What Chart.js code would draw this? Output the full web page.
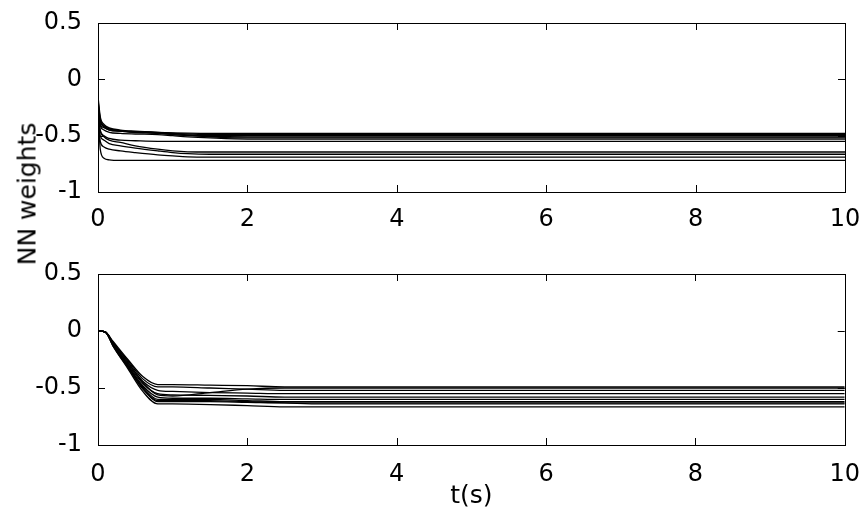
<!DOCTYPE html>
<html>
<head>
<meta charset="utf-8">
<script src="https://cdn.jsdelivr.net/npm/chart.js@4/dist/chart.umd.min.js"></script>
<style>
  body { margin: 0; background: #fff; }
  #wrap { position: relative; width: 867px; height: 512px; }
  canvas { position: absolute; left: 0; }
  #top { top: 0; }
  #bottom { top: 240px; }
  #ylabel {
    position: absolute; left: 27px; top: 194px;
    transform: translate(-50%, -50%) rotate(-90deg);
    font: 25px "DejaVu Sans", sans-serif; color: #000; white-space: nowrap;
  }
</style>
</head>
<body>
<div id="wrap">
  <canvas id="top" width="867" height="240"></canvas>
  <canvas id="bottom" width="867" height="272"></canvas>
  <div id="ylabel">NN weights</div>
</div>
<script>
// axis ticks
const xTicks = [0, 2, 4, 6, 8, 10];
const yTicks = [-1, -0.5, 0, 0.5];

// top subplot: sample times and weight trajectories
const timesTop = [0, 0.03, 0.08, 0.15, 0.3, 0.5, 0.8, 1.0, 1.2, 1.5, 2, 3, 10];
const wTop1 = [-0.15, -0.33, -0.40, -0.43, -0.45, -0.46, -0.47, -0.475, -0.478, -0.48, -0.48, -0.48, -0.48];
const wTop2 = [-0.20, -0.36, -0.41, -0.44, -0.455, -0.465, -0.475, -0.48, -0.485, -0.49, -0.49, -0.49, -0.49];
const wTop3 = [-0.25, -0.38, -0.42, -0.44, -0.46, -0.47, -0.48, -0.49, -0.495, -0.50, -0.50, -0.50, -0.50];
const wTop4 = [-0.18, -0.35, -0.42, -0.45, -0.46, -0.465, -0.47, -0.48, -0.495, -0.505, -0.51, -0.51, -0.51];
const wTop5 = [-0.28, -0.40, -0.43, -0.45, -0.46, -0.47, -0.475, -0.49, -0.50, -0.51, -0.52, -0.52, -0.52];
const wTop6 = [-0.30, -0.41, -0.45, -0.47, -0.48, -0.485, -0.49, -0.50, -0.51, -0.52, -0.53, -0.53, -0.53];
const wTop7 = [-0.30, -0.45, -0.50, -0.525, -0.54, -0.545, -0.55, -0.55, -0.55, -0.55, -0.55, -0.55, -0.55];
const wTop8 = [-0.32, -0.46, -0.51, -0.54, -0.56, -0.59, -0.62, -0.635, -0.643, -0.645, -0.645, -0.645, -0.645];
const wTop9 = [-0.35, -0.50, -0.54, -0.57, -0.59, -0.61, -0.635, -0.65, -0.66, -0.665, -0.665, -0.665, -0.665];
const wTop10 = [-0.35, -0.55, -0.60, -0.62, -0.635, -0.65, -0.67, -0.68, -0.688, -0.69, -0.69, -0.69, -0.69];
const wTop11 = [-0.22, -0.62, -0.70, -0.715, -0.72, -0.72, -0.72, -0.72, -0.72, -0.72, -0.72, -0.72, -0.72];
const seriesTop = [wTop1, wTop2, wTop3, wTop4, wTop5, wTop6, wTop7, wTop8, wTop9, wTop10, wTop11];

// bottom subplot
const timesBottom = [0, 0.1, 0.2, 0.4, 0.6, 0.8, 1.0, 1.5, 2.0, 2.5, 3.0, 10];
const wBot1 = [0, -0.01, -0.09, -0.25, -0.40, -0.47, -0.47, -0.475, -0.48, -0.49, -0.49, -0.49];
const wBot2 = [0, -0.01, -0.10, -0.27, -0.45, -0.56, -0.57, -0.54, -0.51, -0.50, -0.50, -0.50];
const wBot3 = [0, -0.01, -0.10, -0.26, -0.42, -0.49, -0.49, -0.50, -0.51, -0.52, -0.52, -0.52];
const wBot4 = [0, -0.01, -0.11, -0.28, -0.44, -0.52, -0.53, -0.54, -0.545, -0.55, -0.55, -0.55];
const wBot5 = [0, -0.01, -0.11, -0.29, -0.46, -0.55, -0.56, -0.565, -0.57, -0.58, -0.58, -0.58];
const wBot6 = [0, -0.01, -0.12, -0.30, -0.48, -0.58, -0.59, -0.59, -0.595, -0.60, -0.60, -0.60];
const wBot7 = [0, -0.01, -0.12, -0.31, -0.49, -0.60, -0.60, -0.60, -0.61, -0.62, -0.62, -0.62];
const wBot8 = [0, -0.01, -0.12, -0.31, -0.50, -0.62, -0.62, -0.62, -0.625, -0.63, -0.63, -0.63];
const wBot9 = [0, -0.01, -0.13, -0.32, -0.51, -0.61, -0.61, -0.61, -0.62, -0.63, -0.64, -0.64];
const wBot10 = [0, -0.01, -0.13, -0.33, -0.53, -0.64, -0.64, -0.645, -0.655, -0.665, -0.665, -0.665];
const seriesBottom = [wBot1, wBot2, wBot3, wBot4, wBot5, wBot6, wBot7, wBot8, wBot9, wBot10];

const FONT = { family: '"DejaVu Sans", sans-serif', size: 24 };

// MATLAB style box with inward ticks on all four sides
const boxPlugin = {
  id: 'box',
  afterDraw(chart) {
    const { ctx, chartArea: a, scales } = chart;
    ctx.save();
    ctx.strokeStyle = '#000';
    ctx.lineWidth = 1;
    ctx.strokeRect(Math.round(a.left) + 0.5, Math.round(a.top) + 0.5,
      Math.round(a.right - a.left), Math.round(a.bottom - a.top));
    const len = 7;
    ctx.beginPath();
    xTicks.forEach(v => {
      const px = Math.round(scales.x.getPixelForValue(v)) + 0.5;
      ctx.moveTo(px, a.bottom); ctx.lineTo(px, a.bottom - len);
      ctx.moveTo(px, a.top); ctx.lineTo(px, a.top + len);
    });
    yTicks.forEach(v => {
      const py = Math.round(scales.y.getPixelForValue(v)) + 0.5;
      ctx.moveTo(a.left, py); ctx.lineTo(a.left + len, py);
      ctx.moveTo(a.right, py); ctx.lineTo(a.right - len, py);
    });
    ctx.stroke();
    ctx.restore();
  }
};

function makeChart(id, times, series, opts) {
  const datasets = series.map(s => ({
    data: times.map((t, i) => ({ x: t, y: s[i] })),
    borderColor: '#000',
    borderWidth: 1.3,
    pointRadius: 0,
    cubicInterpolationMode: 'monotone',
    fill: false
  }));
  return new Chart(document.getElementById(id), {
    type: 'line',
    data: { datasets },
    plugins: [boxPlugin],
    options: {
      responsive: false,
      animation: false,
      layout: { padding: { top: opts.padTop, right: 22, left: 0, bottom: 0 } },
      plugins: { legend: { display: false }, tooltip: { enabled: false } },
      scales: {
        x: {
          type: 'linear', min: 0, max: 10,
          afterBuildTicks: s => { s.ticks = xTicks.map(v => ({ value: v })); },
          afterFit: s => { s.height = opts.xHeight; },
          grid: { display: false },
          border: { display: false },
          ticks: { color: '#000', font: FONT, padding: opts.xPad, maxRotation: 0, callback: v => String(v) },
          title: opts.xTitle ? {
            display: true, text: opts.xTitle, color: '#000', font: { family: FONT.family, size: 25 },
            padding: { top: 0, bottom: 1 }
          } : { display: false }
        },
        y: {
          min: -1, max: 0.5,
          afterBuildTicks: s => { s.ticks = yTicks.map(v => ({ value: v })); },
          afterFit: s => { s.width = 98; },
          grid: { display: false },
          border: { display: false },
          ticks: { color: '#000', font: FONT, padding: 8, callback: v => String(v) }
        }
      }
    }
  });
}

makeChart('top', timesTop, seriesTop, { padTop: 23, xHeight: 48, xPad: 5 });
makeChart('bottom', timesBottom, seriesBottom, { padTop: 34, xHeight: 67, xPad: 7, xTitle: 't(s)' });
</script>
</body>
</html>
